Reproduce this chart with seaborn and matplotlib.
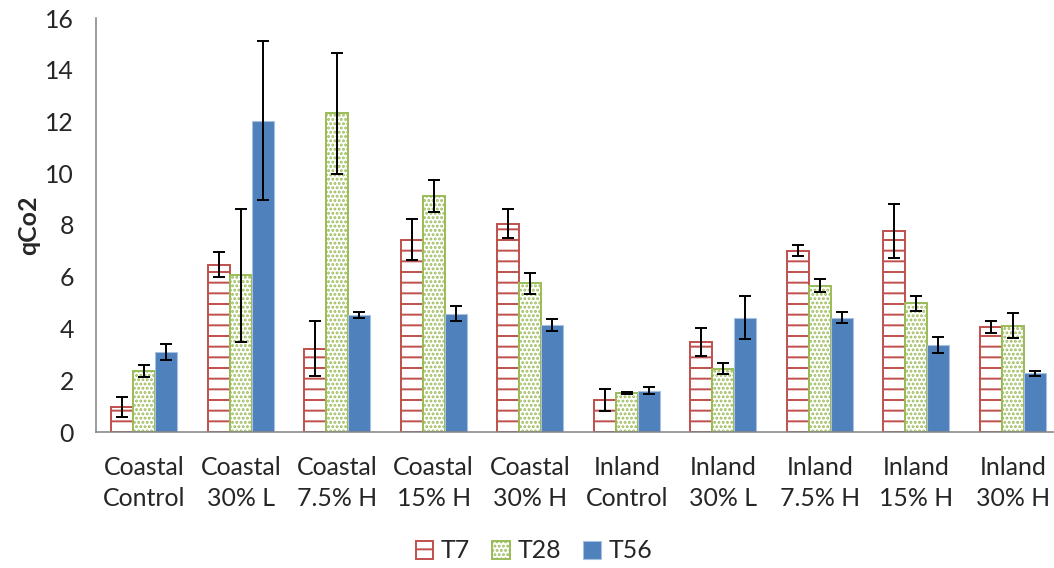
import numpy as np
import pandas as pd
import matplotlib
matplotlib.use("Agg")
import matplotlib.pyplot as plt
import seaborn as sns

# values
treatments = ["Coastal\nControl", "Coastal\n30% L", "Coastal\n7.5% H", "Coastal\n15% H",
              "Coastal\n30% H", "Inland\nControl", "Inland\n30% L", "Inland\n7.5% H",
              "Inland\n15% H", "Inland\n30% H"]
times = ["T7", "T28", "T56"]

t7 = [0.97, 6.47, 3.22, 7.43, 8.05, 1.23, 3.47, 7.01, 7.76, 4.06]
t7_err = [0.38, 0.47, 1.07, 0.80, 0.55, 0.43, 0.55, 0.21, 1.05, 0.23]
t28 = [2.37, 6.05, 12.31, 9.12, 5.75, 1.51, 2.45, 5.66, 4.97, 4.10]
t28_err = [0.23, 2.58, 2.35, 0.63, 0.40, 0.03, 0.20, 0.24, 0.28, 0.48]
t56 = [3.10, 12.03, 4.53, 4.57, 4.13, 1.60, 4.41, 4.42, 3.38, 2.27]
t56_err = [0.32, 3.08, 0.12, 0.29, 0.23, 0.12, 0.83, 0.21, 0.31, 0.09]

y_ticks = [0, 2, 4, 6, 8, 10, 12, 14, 16]


def build_frame():
    rows = []
    for t, vals, errs in zip(times, [t7, t28, t56], [t7_err, t28_err, t56_err]):
        for trt, v, e in zip(treatments, vals, errs):
            rows.append({"treatment": trt, "time": t, "qco2": v, "err": e})
    return pd.DataFrame(rows)


df = build_frame()

sns.set_style("white")
plt.rcParams["font.family"] = ["Lato", "DejaVu Sans"]
plt.rcParams["hatch.linewidth"] = 1.1

DPI = 128
FS = 14
fig = plt.figure(figsize=(1054 / DPI, 568 / DPI), dpi=DPI)
ax = fig.add_axes([96 / 1054, 1 - 432 / 568, 965 / 1054, 414 / 568])

sns.barplot(data=df, x="treatment", y="qco2", hue="time", order=treatments,
            hue_order=times, width=0.68, errorbar=None, legend=False, ax=ax)

styles = {
    "T7": dict(face="white", edge="#C0504D", hatch="--", lw=1.1),
    "T28": dict(face="white", edge="#9BBB59", hatch=".....", lw=1.1),
    "T56": dict(face="#4F81BD", edge="#A9C1E0", hatch=None, lw=0.6),
}

for t, cont in zip(times, ax.containers):
    st = styles[t]
    sub = df[df["time"] == t].set_index("treatment").loc[treatments]
    xs, ys = [], []
    for patch in cont.patches:
        patch.set_facecolor(st["face"])
        patch.set_edgecolor(st["edge"])
        patch.set_linewidth(st["lw"])
        if st["hatch"]:
            patch.set_hatch(st["hatch"])
        xs.append(patch.get_x() + patch.get_width() / 2)
        ys.append(patch.get_height())
    ax.errorbar(xs, ys, yerr=sub["err"].values, fmt="none", ecolor="black",
                elinewidth=1.1, capsize=3.4, capthick=1.1, zorder=5)

ax.set_ylim(0, 16)
ax.set_xlim(-0.5, len(treatments) - 0.5)
ax.set_yticks(y_ticks)
ax.set_yticklabels([str(v) for v in y_ticks], fontsize=FS)
ax.set_xticks(range(len(treatments)))
ax.set_xticklabels(treatments, fontsize=FS, linespacing=1.4)
ax.set_xticks(np.arange(-0.5, len(treatments), 1.0), minor=True)
ax.tick_params(axis="x", which="major", length=0, pad=13.5)
ax.tick_params(axis="x", which="minor", length=4, width=0.9, color="#868686", direction="out")
ax.tick_params(axis="y", length=4.5, width=0.9, color="#868686", direction="out", pad=8)

for side in ["top", "right"]:
    ax.spines[side].set_visible(False)
for side in ["left", "bottom"]:
    ax.spines[side].set_color("#868686")
    ax.spines[side].set_linewidth(0.9)

ax.set_xlabel("")
ax.set_ylabel("qCo2", fontsize=FS, fontweight="bold")
ax.yaxis.set_label_coords(-0.058, 0.5)

fig.legend(handles=ax.containers, labels=times, loc="center",
           bbox_to_anchor=(534 / 1054, 1 - 551 / 568), ncol=3, frameon=False,
           fontsize=FS, handlelength=0.7, handleheight=0.7,
           handletextpad=0.3, columnspacing=0.9)

fig.savefig("out.png", dpi=DPI)
plt.close(fig)
